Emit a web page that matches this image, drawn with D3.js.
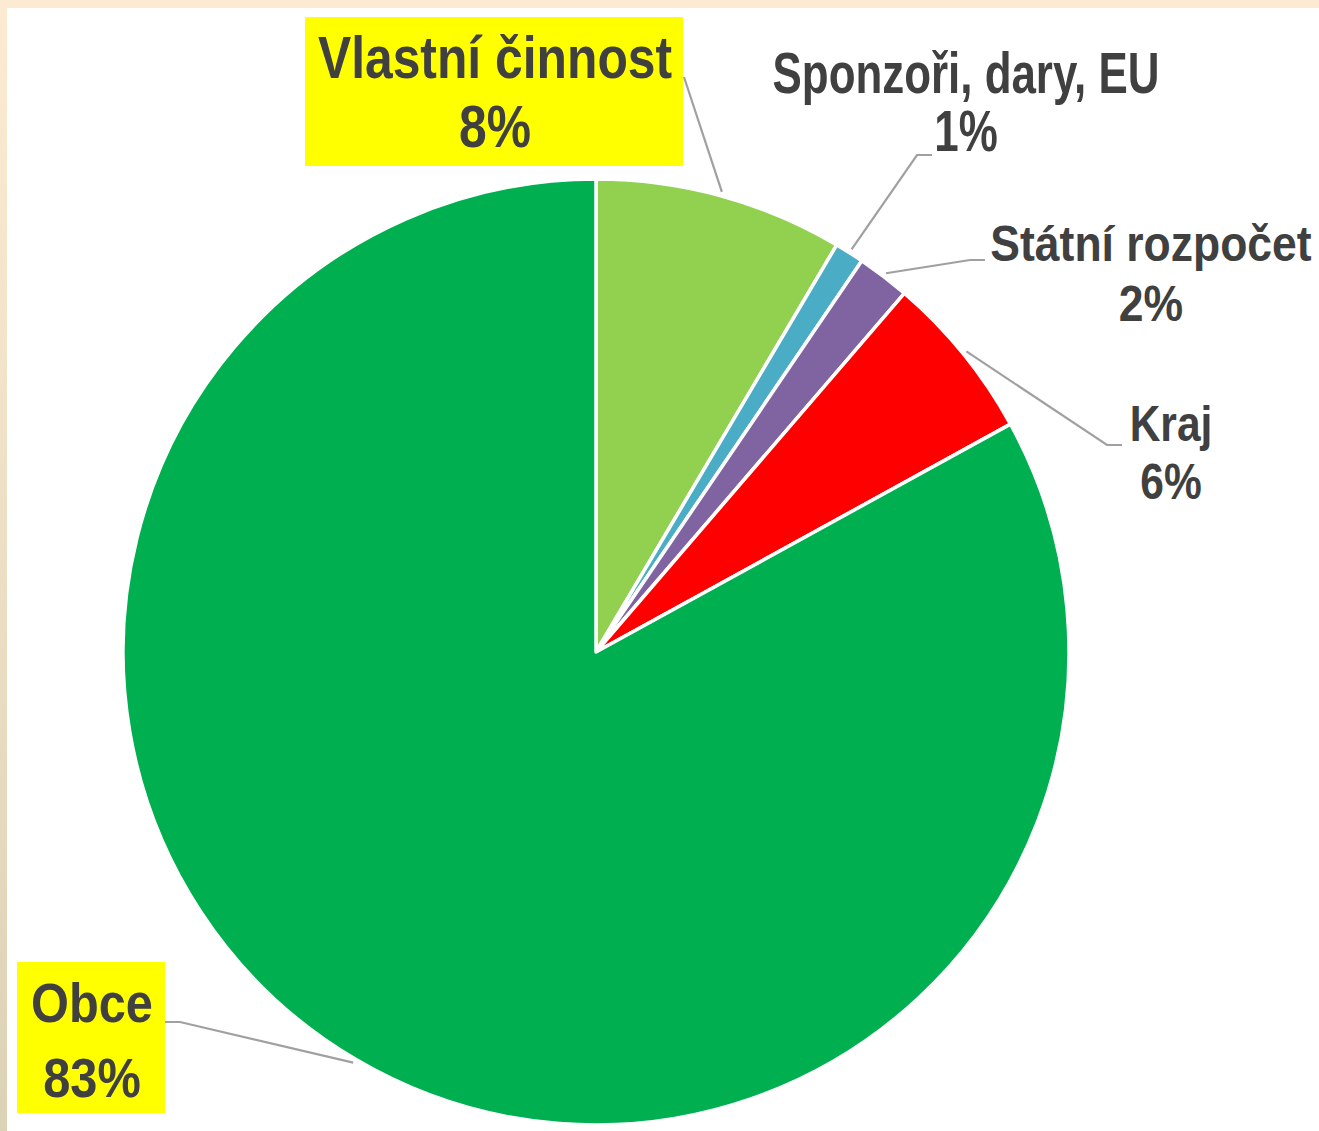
<!DOCTYPE html>
<html>
<head>
<meta charset="utf-8">
<script src="https://cdn.jsdelivr.net/npm/d3@7"></script>
<style>
  body{margin:0;padding:0;background:#fff;}
  svg{display:block;}
  .lbl{font-family:"Liberation Sans",Arial,sans-serif;font-weight:bold;fill:#404040;}
</style>
</head>
<body>
<svg id="chart" width="1319" height="1131"></svg>
<script>
// data
var categories = ["Vlastní činnost","Sponzoři, dary, EU","Státní rozpočet","Kraj","Obce"];
var values = [8.5, 1.0, 1.8, 5.7, 83.0];
var percentLabels = ["8%","1%","2%","6%","83%"];
var colors = ["#92D050","#4BACC6","#8064A2","#FF0000","#00B050"];
var highlighted = [true,false,false,false,true];

// label layout: centre x, baselines, font size, horizontal squeeze, leader start and elbow
var labelPos = [
  {x:495, y1:78,  y2:147,  fs:60, sx:0.83, box:[305,17,378,149], lead:[[684,77]]},
  {x:966, y1:93,  y2:151,  fs:57, sx:0.77, lead:[[932,155],[917,155]]},
  {x:1151,y1:261, y2:321,  fs:50, sx:0.89, lead:[[985,260],[970,260]]},
  {x:1171,y1:441, y2:499,  fs:50, sx:0.85, lead:[[1122,445],[1107,445]]},
  {x:92,  y1:1022,y2:1097, fs:56, sx:0.87, box:[17,962,148,151], lead:[[165,1022],[180,1022]]}
];

var cx = 596, cy = 652, radius = 473;
var svg = d3.select("#chart");

// beige frame
var defs = svg.append("defs");
var grad = defs.append("linearGradient").attr("id","frame")
  .attr("x1",0).attr("y1",0).attr("x2",0).attr("y2",1);
grad.append("stop").attr("offset","0%").attr("stop-color","#FCEBD2");
grad.append("stop").attr("offset","100%").attr("stop-color","#DCD2B6");
svg.append("rect").attr("width",1319).attr("height",1131).attr("fill","url(#frame)");
svg.append("rect").attr("x",0).attr("y",0).attr("width",1319).attr("height",8).attr("fill","#FCEBD2");
svg.append("rect").attr("x",7).attr("y",8).attr("width",1312).attr("height",1123).attr("fill","#fff");

var pie = d3.pie().sort(null).value(function(d){ return d; });
var arcs = pie(values);
var arc = d3.arc().innerRadius(0).outerRadius(radius);

var g = svg.append("g").attr("transform","translate("+cx+","+cy+")");
g.selectAll("path.slice").data(arcs).enter().append("path")
  .attr("class","slice")
  .attr("d",arc)
  .attr("fill",function(d,i){ return colors[i]; })
  .attr("stroke","#fff")
  .attr("stroke-width",3.5)
  .attr("stroke-linejoin","round");

// leader lines
arcs.forEach(function(a,i){
  var p = labelPos[i];
  var mid = (a.startAngle + a.endAngle)/2;
  var r = radius + 4;
  var end = [cx + Math.sin(mid)*r, cy - Math.cos(mid)*r];
  var pts = p.lead.concat([end]);
  svg.append("path")
    .attr("d",d3.line()(pts))
    .attr("fill","none")
    .attr("stroke","#A0A0A0")
    .attr("stroke-width",2.2);
});

// labels
labelPos.forEach(function(p,i){
  if(highlighted[i] && p.box){
    svg.append("rect")
      .attr("x",p.box[0]).attr("y",p.box[1])
      .attr("width",p.box[2]).attr("height",p.box[3])
      .attr("fill","#FFFF00");
  }
  [[categories[i],p.y1],[percentLabels[i],p.y2]].forEach(function(t){
    svg.append("text")
      .attr("class","lbl")
      .attr("text-anchor","middle")
      .attr("font-size",p.fs)
      .attr("transform","translate("+p.x+","+t[1]+") scale("+p.sx+",1)")
      .text(t[0]);
  });
});
</script>
</body>
</html>
